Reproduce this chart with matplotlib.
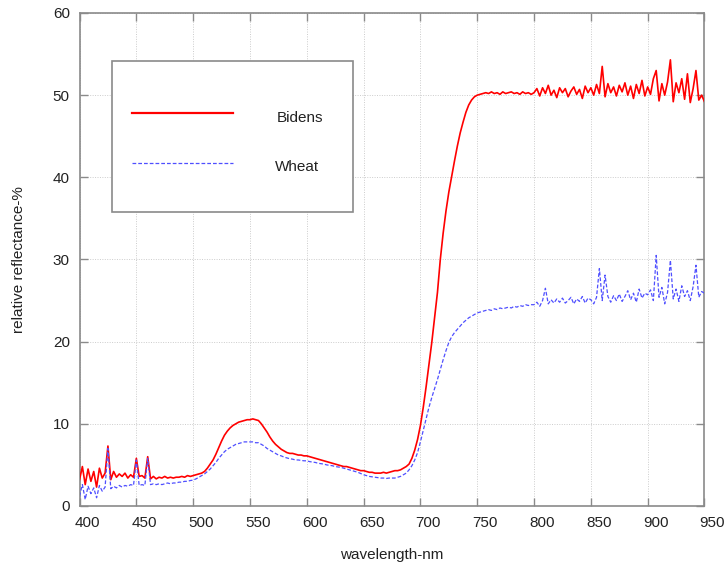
import numpy as np
import matplotlib
matplotlib.use("Agg")
import matplotlib.pyplot as plt
from matplotlib.patches import Rectangle
from matplotlib.transforms import ScaledTranslation

plt.rcParams['font.family'] = ['Liberation Sans', 'DejaVu Sans']

# ---------------- data (one value every 2.5 nm) ----------------
wavelength = np.arange(400, 950.01, 2.5)

bidens = [
    3.2, 4.8, 2.6, 4.5, 3.0, 4.2, 2.3, 4.6, 3.4, 4.0,        # 400
    7.3, 3.2, 4.2, 3.5, 3.9, 3.6, 4.0, 3.4, 3.8, 3.5,        # 425
    5.8, 3.6, 3.7, 3.4, 6.0, 3.3, 3.6, 3.3, 3.5, 3.4,        # 450
    3.6, 3.4, 3.5, 3.4, 3.5, 3.5, 3.6, 3.5, 3.7, 3.6,        # 475
    3.7, 3.8, 3.9, 4.0, 4.2, 4.6, 5.1, 5.6, 6.3, 7.1,        # 500
    7.9, 8.6, 9.1, 9.5, 9.8, 10.0, 10.2, 10.3, 10.4, 10.5,   # 525
    10.5, 10.6, 10.5, 10.4, 10.0, 9.5, 9.0, 8.4, 7.9, 7.5,   # 550
    7.2, 6.9, 6.7, 6.5, 6.4, 6.4, 6.3, 6.2, 6.2, 6.1,        # 575
    6.1, 6.0, 5.9, 5.8, 5.7, 5.6, 5.5, 5.4, 5.3, 5.2,        # 600
    5.1, 5.0, 4.9, 4.8, 4.8, 4.7, 4.6, 4.5, 4.4, 4.3,        # 625
    4.3, 4.2, 4.1, 4.1, 4.0, 4.0, 4.0, 4.1, 4.0, 4.1,        # 650
    4.2, 4.3, 4.3, 4.4, 4.6, 4.8, 5.1, 5.8, 6.8, 8.1,        # 675
    9.8, 12.0, 14.5, 17.2, 19.9, 22.9, 26.0, 30.0, 33.2, 35.9,   # 700
    38.2, 40.1, 42.0, 43.8, 45.4, 46.7, 47.9, 48.8, 49.4, 49.8,  # 725
    50.0, 50.1, 50.2, 50.3, 50.2, 50.4, 50.2, 50.3, 50.1, 50.4,  # 750
    50.2, 50.3, 50.4, 50.2, 50.3, 50.1, 50.4, 50.2, 50.3, 50.1,  # 775
    50.3, 50.8, 49.9, 50.9, 50.2, 51.2, 50.0, 50.6, 49.7, 50.9,  # 800
    50.3, 50.8, 49.8, 50.5, 51.0, 50.1, 50.7, 49.6, 51.1, 50.3,  # 825
    50.9, 50.0, 51.3, 50.2, 53.5, 49.8, 51.4, 50.3, 51.0, 49.9,  # 850
    51.2, 50.4, 51.5, 50.0, 51.1, 49.6, 51.3, 50.2, 51.8, 49.9,  # 875
    51.0, 50.1, 52.0, 53.0, 49.3, 51.4, 50.0, 51.6, 54.3, 49.2,  # 900
    51.5, 50.3, 52.0, 49.5, 52.6, 49.1, 50.8, 53.0, 49.4, 50.0,  # 925
    49.2,                                                        # 950
]

wheat = [
    1.2, 2.6, 0.8, 2.4, 1.5, 2.2, 1.0, 2.5, 1.8, 2.3,        # 400
    7.0, 2.1, 2.4, 2.2, 2.5, 2.3, 2.5, 2.4, 2.6, 2.5,        # 425
    5.6, 2.5, 2.6, 2.5, 5.8, 2.6, 2.7, 2.6, 2.7, 2.6,        # 450
    2.7, 2.8, 2.7, 2.8, 2.8, 2.9, 2.9, 3.0, 3.0, 3.1,        # 475
    3.15, 3.3, 3.5, 3.7, 3.9, 4.2, 4.5, 4.9, 5.3, 5.8,       # 500
    6.2, 6.6, 6.9, 7.1, 7.3, 7.5, 7.6, 7.7, 7.8, 7.8,        # 525
    7.8, 7.8, 7.7, 7.7, 7.5, 7.3, 7.0, 6.8, 6.6, 6.4,        # 550
    6.2, 6.1, 5.95, 5.85, 5.75, 5.7, 5.6, 5.6, 5.55, 5.5,    # 575
    5.5, 5.4, 5.35, 5.3, 5.2, 5.15, 5.1, 5.0, 4.95, 4.9,     # 600
    4.8, 4.75, 4.7, 4.6, 4.5, 4.4, 4.3, 4.2, 4.1, 3.95,      # 625
    3.8, 3.7, 3.6, 3.55, 3.5, 3.45, 3.4, 3.4, 3.35, 3.4,     # 650
    3.4, 3.4, 3.5, 3.6, 3.8, 4.0, 4.4, 4.9, 5.6, 6.5,        # 675
    7.8, 9.2, 10.6, 12.0, 13.2, 14.3, 15.4, 16.6, 17.8, 18.9,    # 700
    19.9, 20.6, 21.1, 21.5, 21.9, 22.3, 22.6, 22.9, 23.1, 23.3,  # 725
    23.5, 23.6, 23.7, 23.8, 23.9, 23.8, 24.0, 23.9, 24.1, 24.0,  # 750
    24.1, 24.2, 24.1, 24.3, 24.2, 24.4, 24.3, 24.5, 24.4, 24.5,  # 775
    24.5, 24.8, 24.3, 25.0, 26.5, 24.6, 25.1, 24.7, 25.2, 24.8,  # 800
    25.3, 24.7, 25.0, 25.4, 24.6, 25.2, 24.9, 25.5, 24.7, 25.3,  # 825
    25.1, 24.6, 25.4, 28.9, 25.0, 28.1, 25.5, 24.8, 25.6, 25.0,  # 850
    25.8, 24.9, 25.5, 26.2, 25.1, 25.9, 24.8, 26.4, 25.3, 25.9,  # 875
    25.7, 26.3, 25.0, 30.5, 25.4, 26.6, 24.6, 26.0, 29.9, 25.2,  # 900
    26.4, 24.9, 26.8, 25.5, 26.2, 25.0, 26.7, 29.3, 25.4, 26.1,  # 925
    25.9,                                                        # 950
]

labels = ["Bidens", "Wheat"]
x_ticks = list(range(400, 951, 50))
y_ticks = list(range(0, 61, 10))

RED = "#ff0000"
BLUE = "#4f4fff"
FRAME = "#8a8a8a"

# ---------------- figure ----------------
fig = plt.figure(figsize=(7.25, 5.7), dpi=100)
ax = fig.add_axes([0.1097, 0.1123, 0.862, 0.8649])

ax.plot(wavelength, bidens, color=RED, lw=1.2, zorder=3)
ax.plot(wavelength, wheat, color=BLUE, lw=0.9, ls=(0, (3, 1.6)), zorder=4)

ax.set_xlim(400, 950)
ax.set_ylim(0, 60)
ax.set_xticks(x_ticks)
ax.set_yticks(y_ticks)

ax.set_axisbelow(True)
ax.grid(True, linestyle=(0, (1, 1.5)), color="#cccccc", linewidth=0.7)

ax.tick_params(direction="in", length=6, width=1, color=FRAME,
               top=True, right=True, labelsize=11, labelcolor="#222222", pad=7)
for sp in ax.spines.values():
    sp.set_color(FRAME)
    sp.set_linewidth(1.2)

# x labels sit a little right of their ticks in the original
shift = ScaledTranslation(8 / 100, 0, fig.dpi_scale_trans)
for lab in ax.get_xticklabels():
    lab.set_transform(lab.get_transform() + shift)

ax.set_xlabel("wavelength-nm", fontsize=11, color="#222222", labelpad=13)
ax.set_ylabel("relative reflectance-%", fontsize=11, color="#222222", labelpad=19)

# ---------------- legend box ----------------
ax.add_patch(Rectangle((0.0525, 0.597), 0.3855, 0.306, transform=ax.transAxes,
                       facecolor="white", edgecolor=FRAME, lw=1.2, zorder=6))
ax.plot([0.0835, 0.246], [0.7965, 0.7965], transform=ax.transAxes,
        color=RED, lw=1.6, zorder=7)
ax.plot([0.0835, 0.246], [0.6963, 0.6963], transform=ax.transAxes,
        color=BLUE, lw=0.9, ls=(0, (3, 1.6)), zorder=7)
ax.text(0.3155, 0.7876, labels[0], transform=ax.transAxes, fontsize=11,
        color="#222222", va="center", ha="left", zorder=8)
ax.text(0.3128, 0.688, labels[1], transform=ax.transAxes, fontsize=11,
        color="#222222", va="center", ha="left", zorder=8)

fig.savefig("out.png", dpi=100)
